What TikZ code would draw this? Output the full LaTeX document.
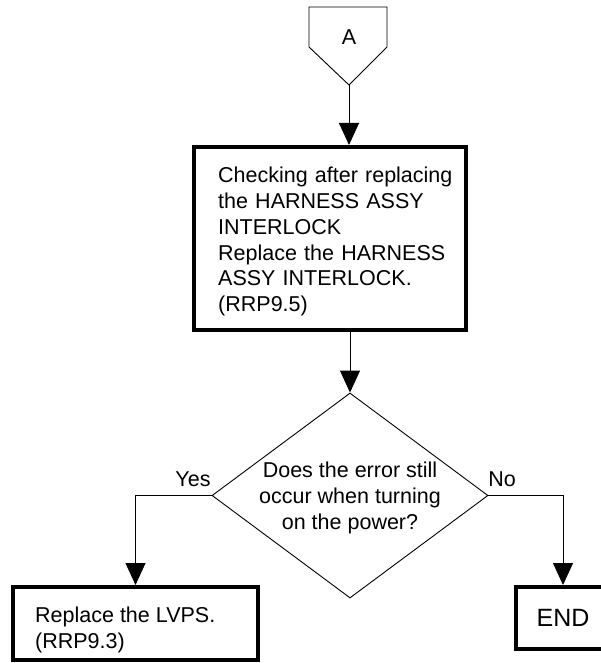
\documentclass[tikz,border=0pt]{standalone}
\usepackage{fontspec}
\setmainfont{Liberation Sans}
\usetikzlibrary{shapes.geometric,arrows.meta}
\begin{document}
\begin{tikzpicture}[x=1pt,y=-1pt,
  thinline/.style={line width=0.9pt,draw=black},
  flowarrow/.style={thinline,-{Triangle[width=20pt,length=22pt]}},
  thickbox/.style={draw=black,line width=4pt,rectangle,inner sep=0pt,fill=white},
  txt/.style={inner sep=0pt,align=left,font=\fontsize{21.5}{25.8}\selectfont}
]
\useasboundingbox (0,0) rectangle (601,663);
% off-page connector A
\draw[thinline,fill=white] (309,7) -- (387,7) -- (387,47) -- (349,85) -- (309,47) -- cycle;
\node[txt] (A) at (349,37) {A};
\coordinate (Atip) at (349,85);
% main box
\node[thickbox,minimum width=272pt,minimum height=183pt] (B) at (330,238.5) {};
\node[txt,anchor=north west,text width=245pt] (Btxt) at (218,167) {Checking after replacing\\the HARNESS ASSY\\INTERLOCK\\Replace the HARNESS\\ASSY INTERLOCK.\\(RRP9.5)};
% decision
\node[diamond,draw=black,line width=0.9pt,inner sep=0pt,minimum width=276pt,minimum height=205pt] (D) at (350,495.5) {};
\node[txt,align=center] (Dtxt) at (350,498) {Does the error still\\occur when turning\\on the power?};
% result boxes
\node[thickbox,minimum width=245pt,minimum height=73pt] (L) at (135.5,623.5) {};
\node[txt,anchor=north west] (Ltxt) at (35,607) {Replace the LVPS.\\(RRP9.3)};
\node[thickbox,minimum width=94pt,minimum height=62pt,font=\fontsize{25}{30}\selectfont] (E) at (563,618) {END};
% connectors
\draw[flowarrow] (Atip) -- (Atip |- B.north);
\draw[flowarrow] (B.south -| D.north) -- (D.north);
\draw[flowarrow] (D.west) -| (L.north);
\draw[flowarrow] (D.east) -| (E.north);
% labels
\node[txt] (yes) at (193,479) {Yes};
\node[txt] (no) at (502,479) {No};
\end{tikzpicture}
\end{document}
